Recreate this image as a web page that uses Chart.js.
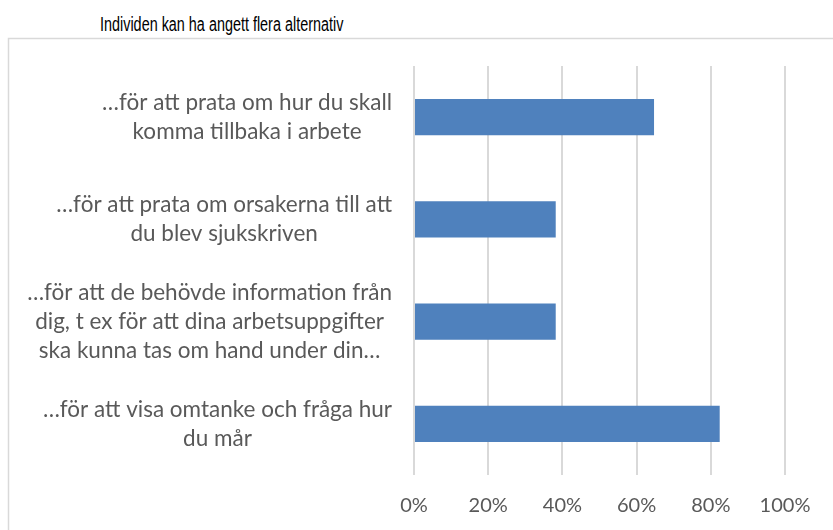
<!DOCTYPE html>
<html>
<head>
<meta charset="utf-8">
<script src="https://cdn.jsdelivr.net/npm/chart.js@4"></script>
<style>
  html, body { margin: 0; padding: 0; background: #fff; }
  #wrap { position: relative; width: 833px; height: 530px; }
  #title {
    position: absolute; left: 100px; top: 13px;
    font-family: "Liberation Sans", Arial, sans-serif;
    font-size: 20px; line-height: 22px; color: #000; white-space: nowrap;
    transform: scaleX(0.72); transform-origin: left top;
  }
  canvas { position: absolute; left: 0; top: 0; }
</style>
</head>
<body>
<div id="wrap">
  <div id="title">Individen kan ha angett flera alternativ</div>
  <canvas id="myBar" width="833" height="530"></canvas>
</div>
<script>
const categories = [
  ["…för att prata om hur du skall", "komma tillbaka i arbete"],
  ["…för att prata om orsakerna till att", "du blev sjukskriven"],
  ["…för att de behövde information från", "dig, t ex för att dina arbetsuppgifter", "ska kunna tas om hand under din…"],
  ["…för att visa omtanke och fråga hur", "du mår"]
];
const shares = [64.7, 38.2, 38.2, 82.4];
const tickValues = [0, 20, 40, 60, 80, 100];

const labelFont = '22.5px Lato, "Open Sans", sans-serif';
const labelColor = '#595959';

// frame around the plot, like the original sheet chart
const framePlugin = {
  id: 'frame',
  beforeDraw(chart) {
    const c = chart.ctx;
    c.save();
    c.strokeStyle = '#d9d9d9';
    c.lineWidth = 1.5;
    c.strokeRect(8.5, 38.5, 900, 600);
    c.restore();
  }
};

// category labels: block right aligned, lines centred inside the block
const catLabels = {
  id: 'catLabels',
  afterDraw(chart) {
    const c = chart.ctx;
    const y = chart.scales.y;
    const right = chart.chartArea.left - 22;
    const lineH = 29;
    c.save();
    c.font = labelFont;
    c.fillStyle = labelColor;
    c.textAlign = 'center';
    c.textBaseline = 'middle';
    categories.forEach((lines, i) => {
      const w = Math.max(...lines.map(l => c.measureText(l).width));
      const cx = right - w / 2;
      const cy = y.getPixelForTick(i);
      lines.forEach((l, k) => {
        c.fillText(l, cx, cy + (k - (lines.length - 1) / 2) * lineH);
      });
    });
    c.restore();
  }
};

new Chart(document.getElementById('myBar'), {
  type: 'bar',
  data: {
    labels: categories,
    datasets: [{
      data: shares,
      backgroundColor: '#4f81bd',
      borderWidth: 0,
      categoryPercentage: 1,
      barPercentage: 0.353
    }]
  },
  options: {
    indexAxis: 'y',
    responsive: false,
    animation: false,
    layout: { padding: { top: 66, right: 48, bottom: 0, left: 0 } },
    plugins: { legend: { display: false }, tooltip: { enabled: false } },
    scales: {
      x: {
        min: 0,
        max: 100,
        afterBuildTicks(scale) { scale.ticks = tickValues.map(v => ({ value: v })); },
        afterFit(scale) { scale.height = 55; },
        grid: { color: '#d9d9d9', lineWidth: 2, drawTicks: false },
        border: { display: false },
        ticks: {
          padding: 19,
          color: labelColor,
          font: { family: 'Lato, "Open Sans", sans-serif', size: 20 },
          callback: v => v + '%'
        }
      },
      y: {
        grid: { display: false },
        border: { display: false },
        ticks: { display: false },
        afterFit(scale) { scale.width = 414; }
      }
    }
  },
  plugins: [framePlugin, catLabels]
});
</script>
</body>
</html>
